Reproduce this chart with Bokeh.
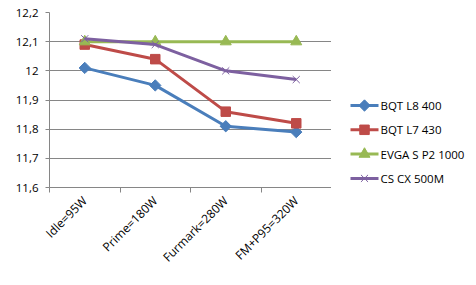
import math
from bokeh.plotting import figure
from bokeh.layouts import row
from bokeh.models import FixedTicker, Range1d, ColumnDataSource
from bokeh.core.properties import value
from bokeh.embed import file_html
from bokeh.resources import INLINE

categories = ["Idle=95W", "Prime=180W", "Furmark=280W", "FM+P95=320W"]
series_names = ["BQT L8 400", "BQT L7 430", "EVGA S P2 1000", "CS CX 500M"]
bqt_l8 = [12.01, 11.95, 11.81, 11.79]
bqt_l7 = [12.09, 12.04, 11.86, 11.82]
evga = [12.10, 12.10, 12.10, 12.10]
cs_cx = [12.11, 12.09, 12.00, 11.97]
y_ticks = [11.6, 11.7, 11.8, 11.9, 12.0, 12.1, 12.2]
y_tick_labels = ["11,6", "11,7", "11,8", "11,9", "12", "12,1", "12,2"]

colors = ["#4A7EBB", "#BE4B48", "#98B954", "#7D60A0"]
markers = ["square", "square", "triangle", "x"]
angles = [math.pi / 4, 0, 0, 0]
sizes = [8, 9.5, 11, 10]

FONT = "Open Sans"
GRAY = "#868686"

n = len(categories)
xpos = [i + 0.5 for i in range(n)]

p = figure(width=331, height=285, output_backend="svg", toolbar_location=None,
           x_range=Range1d(0, n), y_range=Range1d(11.6, 12.2),
           min_border_left=49, min_border_right=0, min_border_top=12,
           min_border_bottom=98)
p.outline_line_color = None
p.background_fill_color = "white"
p.border_fill_color = "white"

# x axis
p.xaxis.ticker = FixedTicker(ticks=xpos, minor_ticks=list(range(n + 1)))
p.xaxis.major_label_overrides = {x: c for x, c in zip(xpos, categories)}
p.xaxis.major_tick_in = 0
p.xaxis.major_tick_out = 0
p.xaxis.minor_tick_in = 0
p.xaxis.minor_tick_out = 5
p.xaxis.minor_tick_line_color = GRAY
p.xaxis.axis_line_color = GRAY
p.xaxis.major_label_orientation = math.pi / 4
p.xaxis.major_label_text_font = FONT
p.xaxis.major_label_text_font_size = "12px"
p.xaxis.major_label_text_color = "black"
p.xaxis.major_label_standoff = 6
p.xgrid.grid_line_color = None

# y axis
p.yaxis.ticker = FixedTicker(ticks=y_ticks, minor_ticks=[])
p.yaxis.major_label_overrides = {t: l for t, l in zip(y_ticks, y_tick_labels)}
p.yaxis.major_tick_in = 0
p.yaxis.major_tick_out = 4
p.yaxis.major_tick_line_color = GRAY
p.yaxis.axis_line_color = GRAY
p.yaxis.major_label_text_font = FONT
p.yaxis.major_label_text_font_size = "11.5px"
p.yaxis.major_label_text_color = "black"
p.yaxis.major_label_standoff = 7
p.ygrid.grid_line_color = GRAY
p.ygrid.grid_line_width = 1

for vals, col, mk, ang, sz in zip([bqt_l8, bqt_l7, evga, cs_cx], colors, markers, angles, sizes):
    src = ColumnDataSource(dict(x=xpos, y=vals))
    p.line("x", "y", source=src, line_color=col, line_width=3)
    if mk == "x":
        p.scatter("x", "y", source=src, marker=mk, size=sz, line_color=col, line_width=1)
    else:
        p.scatter("x", "y", source=src, marker=mk, angle=ang, size=sz,
                  fill_color=col, line_color=col)

# legend panel (screen-like units: x to the right, y down from the frame top)
lg = figure(width=145, height=285, output_backend="svg", toolbar_location=None,
            x_range=Range1d(0, 145), y_range=Range1d(175, 0),
            x_axis_type=None, y_axis_type=None, min_border=0)
lg.outline_line_color = None
lg.xgrid.visible = False
lg.ygrid.visible = False
lg.background_fill_color = "white"
lg.border_fill_color = "white"

first_row, row_step = 93.0, 24.3
sw_x0, sw_x1, label_x = 19, 47, 49
for i, (name, col, mk, ang, sz) in enumerate(zip(series_names, colors, markers, angles, sizes)):
    yy = first_row + i * row_step
    lg.segment(x0=[sw_x0], y0=[yy], x1=[sw_x1], y1=[yy], line_color=col, line_width=3)
    if mk == "x":
        lg.scatter(x=[(sw_x0 + sw_x1) / 2], y=[yy], marker=mk, size=sz,
                   line_color=col, line_width=1)
    else:
        lg.scatter(x=[(sw_x0 + sw_x1) / 2], y=[yy], marker=mk, angle=ang, size=sz,
                   fill_color=col, line_color=col)
    lg.text(x=[label_x], y=[yy], text=[name], text_font=value(FONT),
            text_font_size="11.5px", text_color="black",
            text_align="left", text_baseline="middle")

layout = row(p, lg, spacing=0)
open("out.html", "w").write(file_html(layout, INLINE))
